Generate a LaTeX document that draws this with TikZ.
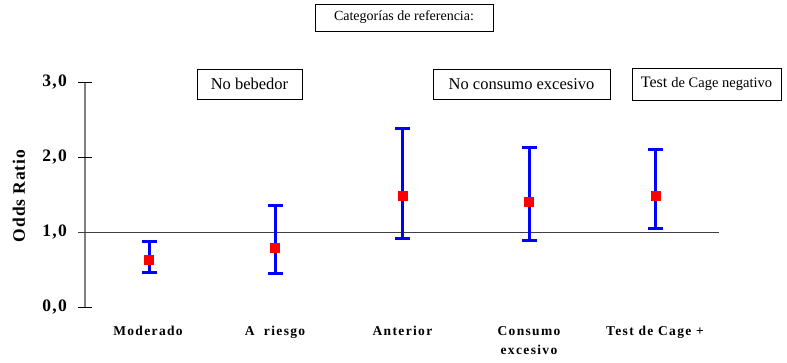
\documentclass[tikz,border=0pt]{standalone}
\usepackage{fontspec}
\setmainfont{Liberation Serif}

\begin{document}
\begin{tikzpicture}[x=1pt, y=-1pt,
		refbox/.style={draw, line width=0.8pt, inner sep=0pt, minimum height=30pt, font=\fontsize{16.5}{18}\selectfont},
		catlabel/.style={anchor=north, inner sep=2pt, align=center, font=\bfseries\fontsize{13.5}{19.5}\selectfont\addfontfeatures{LetterSpace=10}},
		ticklabel/.style={anchor=east, inner sep=0pt, font=\bfseries\fontsize{17.5}{19}\selectfont\addfontfeatures{LetterSpace=7}},
		errbar/.style={blue, line width=3pt},
		estimate/.style={fill=red, minimum size=10pt, inner sep=0pt},
	]
\useasboundingbox (0,0) rectangle (787,362);

% reference categories
\node[refbox, minimum width=178pt, minimum height=27pt, font=\fontsize{14}{16}\selectfont] (catref) at (404,17.5) {Categorías de referencia:};
\node[refbox, minimum width=105pt] (nobebedor) at (249.5,84) {No bebedor};
\node[refbox, minimum width=177pt] (noexcesivo) at (521.5,84) {No consumo excesivo};
\node[refbox, minimum width=149pt, minimum height=32pt] (cagenegativo) at (706.5,84) {\fontsize{16}{18}\selectfont Test \fontsize{14.5}{18}\selectfont de Cage negativo};

\node[rotate=90, font=\bfseries\fontsize{17.5}{19}\selectfont\addfontfeatures{LetterSpace=5}] (ylabel) at (19,196) {Odds Ratio};

\begin{scope}[shift={(0,307.3)}, y=75pt]
	\coordinate (axbot) at (85,0);
	\coordinate (axtop) at (85,3);
	\draw[gray, line width=2pt] (axbot) -- (axtop);
	\foreach \v in {0,...,3} {
		\coordinate (tickL\v) at (78,\v);
		\coordinate (tickR\v) at (91.7,\v);
		\draw[line width=1pt] (tickL\v) -- (tickR\v);
		\node[ticklabel] (tick\v) at (67,\v) {\v,0};
	}
	\coordinate (refR) at (719,1);
	\draw[black!75, line width=1.2pt] (tickL1) -- (refR);

	% intervals
	\foreach \xc/\lo/\est/\hi [count=\i] in {149/0.46/0.63/0.875, 275.3/0.449/0.79/1.364, 402.7/0.918/1.485/2.386, 529.3/0.897/1.40/2.133, 655.7/1.048/1.488/2.11} {
		\coordinate (low\i) at (\xc,\lo);
		\coordinate (up\i) at (\xc,\hi);
		\draw[errbar] (low\i) -- (up\i);
		\draw[errbar] ([xshift=-7.5pt]low\i) -- ([xshift=7.5pt]low\i);
		\draw[errbar] ([xshift=-7.5pt]up\i) -- ([xshift=7.5pt]up\i);
		\node[estimate] (or\i) at (\xc,\est) {};
	}
\end{scope}

\node[catlabel] (moderado) at (148,324) {Moderado};
\node[catlabel] (riesgo) at (275,324) {A\ \ riesgo};
\node[catlabel] (anterior) at (402.5,324) {Anterior};
\node[catlabel] (consumo) at (529,324) {Consumo\\excesivo};
\node[catlabel] (cage) at (655,324) {Test de Cage +};

\end{tikzpicture}
\end{document}
